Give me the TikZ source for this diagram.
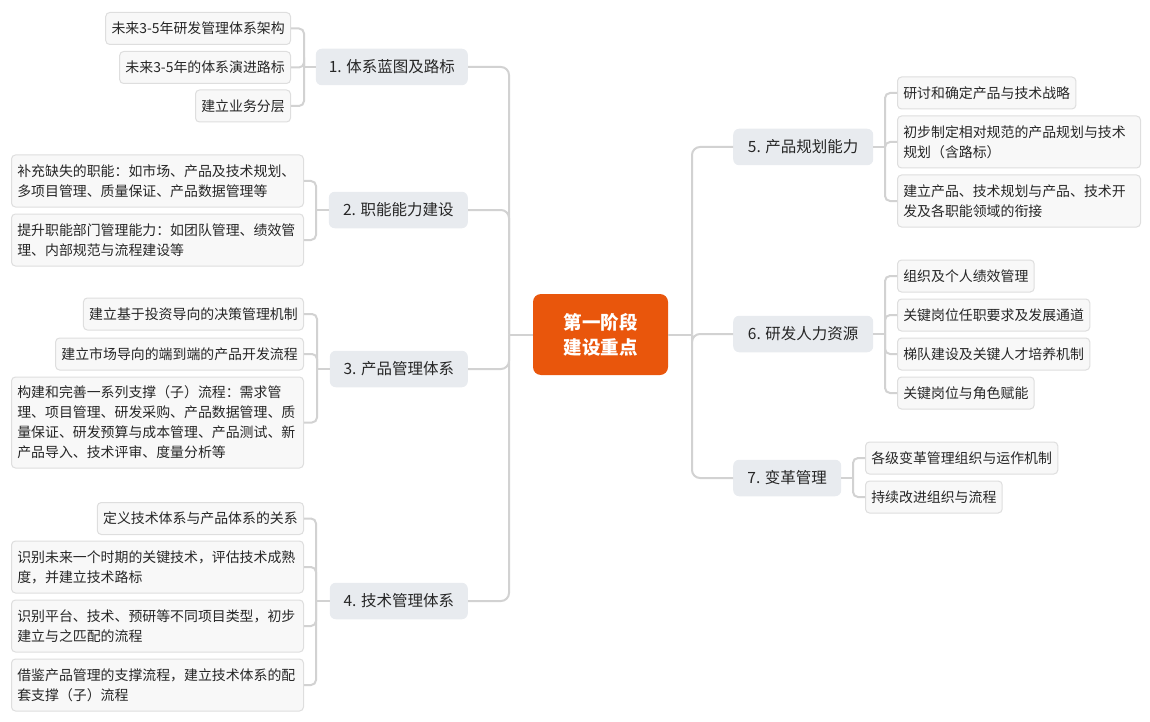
\documentclass[tikz,border=0pt]{standalone}
\usepackage{fontspec}
\setmainfont{Noto Sans CJK SC}
\definecolor{rootc}{HTML}{E9560C}
\definecolor{lonefill}{HTML}{E8EBEF}
\definecolor{leaffill}{HTML}{F8F8F8}
\definecolor{leafdraw}{HTML}{DEDEDE}
\definecolor{linkc}{HTML}{D2D2D2}
\definecolor{txt}{HTML}{262626}
\begin{document}
\begin{tikzpicture}[x=1pt,y=-1pt,
  rootnode/.style={rectangle, rounded corners=8pt, fill=rootc, text=white,
    font=\fontsize{18.5}{25}\selectfont\bfseries, align=center,
    minimum width=135pt, minimum height=81pt, inner sep=2pt},
  lone/.style={rectangle, rounded corners=6pt, fill=lonefill, text=txt,
    font=\fontsize{15.5}{20}\selectfont, minimum height=36.5pt, inner sep=2pt},
  leaf/.style={rectangle, rounded corners=4pt, fill=leaffill, draw=leafdraw, line width=1pt,
    text=txt, font=\fontsize{13.9}{20}\selectfont, inner xsep=5.8pt, inner ysep=2pt,
    minimum height=32pt},
  leafL/.style={leaf, align=left, text width=280.4pt, minimum height=52pt},
  leafR/.style={leaf, align=left, text width=231.4pt, minimum height=52pt},
  link/.style={draw=linkc, line width=2pt},
  trunk/.style={link, rounded corners=8pt},
  brack/.style={link, rounded corners=5pt}]
\useasboundingbox (0,0) rectangle (1150,722);

% root
\node[rootnode] (root) at (600.5,334.5) {第一阶段\\建设重点};

% level 1
\node[lone, minimum width=152pt, anchor=east] (n1) at (468,67) {1. 体系蓝图及路标};
\node[lone, minimum width=139pt, anchor=east] (n2) at (468,210) {2. 职能能力建设};
\node[lone, minimum width=138pt, anchor=east] (n3) at (468,369) {3. 产品管理体系};
\node[lone, minimum width=138pt, anchor=east] (n4) at (468,601) {4. 技术管理体系};
\node[lone, minimum width=140pt, anchor=west] (n5) at (733,147) {5. 产品规划能力};
\node[lone, minimum width=140pt, anchor=west] (n6) at (733,334) {6. 研发人力资源};
\node[lone, minimum width=108pt, anchor=west] (n7) at (733,478) {7. 变革管理};

% leaves branch 1
\node[leaf, anchor=east] (c11) at (291,28.5) {未来3-5年研发管理体系架构};
\node[leaf, anchor=east] (c12) at (291,67.5) {未来3-5年的体系演进路标};
\node[leaf, anchor=east] (c13) at (291,106) {建立业务分层};
% branch 2
\node[leafL, anchor=east] (c21) at (304,181) {补充缺失的职能：如市场、产品及技术规划、\\多项目管理、质量保证、产品数据管理等};
\node[leafL, anchor=east] (c22) at (304,240) {提升职能部门管理能力：如团队管理、绩效管\\理、内部规范与流程建设等};
% branch 3
\node[leaf, anchor=east] (c31) at (304,314) {建立基于投资导向的决策管理机制};
\node[leaf, anchor=east] (c32) at (304,354) {建立市场导向的端到端的产品开发流程};
\node[leafL, anchor=east, minimum height=91pt] (c33) at (304,422.5) {构建和完善一系列支撑（子）流程：需求管\\理、项目管理、研发采购、产品数据管理、质\\量保证、研发预算与成本管理、产品测试、新\\产品导入、技术评审、度量分析等};
% branch 4
\node[leaf, anchor=east] (c41) at (304,518.5) {定义技术体系与产品体系的关系};
\node[leafL, anchor=east] (c42) at (304,567) {识别未来一个时期的关键技术，评估技术成熟\\度，并建立技术路标};
\node[leafL, anchor=east] (c43) at (304,626) {识别平台、技术、预研等不同项目类型，初步\\建立与之匹配的流程};
\node[leafL, anchor=east] (c44) at (304,685) {借鉴产品管理的支撑流程，建立技术体系的配\\套支撑（子）流程};
% branch 5
\node[leaf, anchor=west] (c51) at (897,93) {研讨和确定产品与技术战略};
\node[leafR, anchor=west] (c52) at (897,142) {初步制定相对规范的产品规划与技术\\规划（含路标）};
\node[leafR, anchor=west] (c53) at (897,201) {建立产品、技术规划与产品、技术开\\发及各职能领域的衔接};
% branch 6
\node[leaf, anchor=west] (c61) at (897,276) {组织及个人绩效管理};
\node[leaf, anchor=west] (c62) at (897,315) {关键岗位任职要求及发展通道};
\node[leaf, anchor=west] (c63) at (897,354) {梯队建设及关键人才培养机制};
\node[leaf, anchor=west] (c64) at (897,393) {关键岗位与角色赋能};
% branch 7
\node[leaf, anchor=west] (c71) at (865,458) {各级变革管理组织与运作机制};
\node[leaf, anchor=west] (c72) at (865,497) {持续改进组织与流程};

% junctions
\coordinate (jL) at (509,334.5);
\coordinate (jR) at (692,334.5);
\coordinate (j1) at (304,67);
\coordinate (j2) at (316,210);
\coordinate (j3) at (317,369);
\coordinate (j4) at (316,601);
\coordinate (j5) at (885,147);
\coordinate (j6) at (885,334);
\coordinate (j7) at (853,478);

% trunk connectors
\draw[link] (root.west) -- (jL);
\draw[link] (root.east) -- (jR);
\draw[trunk] (jL) |- (n1.east);
\draw[trunk] (jL) |- (n2.east);
\draw[trunk] (jL) |- (n3.east);
\draw[trunk] (jL) |- (n4.east);
\draw[trunk] (jR) |- (n5.west);
\draw[trunk] (jR) |- (n6.west);
\draw[trunk] (jR) |- (n7.west);

% level-1 to brackets
\draw[link] (n1.west) -- (j1);
\draw[link] (n2.west) -- (j2);
\draw[link] (n3.west) -- (j3);
\draw[link] (n4.west) -- (j4);
\draw[link] (n5.east) -- (j5);
\draw[link] (n6.east) -- (j6);
\draw[link] (n7.east) -- (j7);

% brackets to leaves
\foreach \c in {c11,c12,c13} \draw[brack] (j1) |- (\c.east);
\foreach \c in {c21,c22} \draw[brack] (j2) |- (\c.east);
\foreach \c in {c31,c32,c33} \draw[brack] (j3) |- (\c.east);
\foreach \c in {c41,c42,c43,c44} \draw[brack] (j4) |- (\c.east);
\foreach \c in {c51,c52,c53} \draw[brack] (j5) |- (\c.west);
\foreach \c in {c61,c62,c63,c64} \draw[brack] (j6) |- (\c.west);
\foreach \c in {c71,c72} \draw[brack] (j7) |- (\c.west);
\end{tikzpicture}
\end{document}
